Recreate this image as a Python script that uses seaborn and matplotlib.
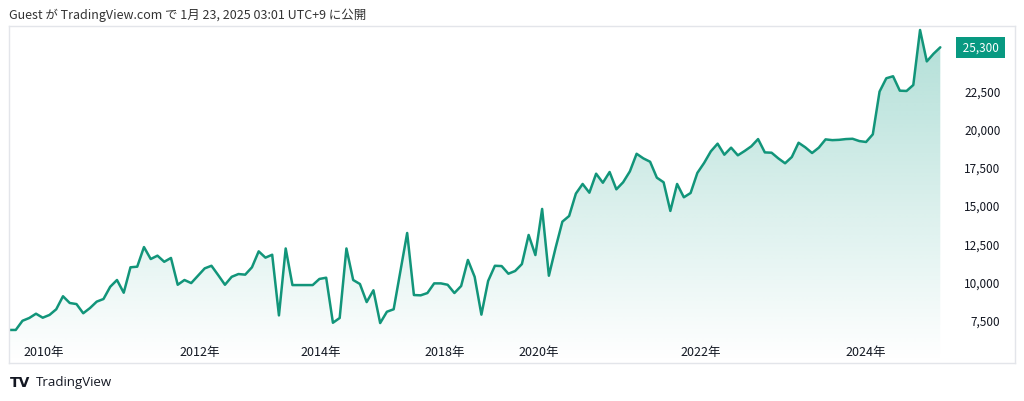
import numpy as np
import pandas as pd
import matplotlib
matplotlib.use("Agg")
import matplotlib.pyplot as plt
import matplotlib.transforms as mtransforms
import seaborn as sns

# monthly closes (TradingView compresses gaps, so x is bar index)
price = [6850, 6850, 7450, 7630, 7910, 7650, 7830, 8200, 9050, 8610,
         8540, 7940, 8280, 8700, 8870, 9670, 10110, 9280, 10940, 10980,
         12260, 11480, 11700, 11300, 11550, 9800, 10110, 9910, 10390, 10870,
         11040, 10430, 9800, 10320, 10500, 10460, 10940, 11980, 11570, 11760,
         7800, 12170, 9780, 9780, 9780, 9780, 10180, 10260, 7320, 7630,
         12170, 10110, 9850, 8670, 9440, 7300, 8040, 8200, 10680, 13180,
         9130, 9110, 9260, 9890, 9890, 9800, 9260, 9720, 11420, 10320,
         7850, 10050, 11040, 11020, 10520, 10700, 11150, 13050, 11740, 14750,
         10390, 12220, 13920, 14290, 15750, 16380, 15810, 17050, 16460, 17160,
         16030, 16490, 17200, 18350, 18050, 17830, 16790, 16490, 14620, 16380,
         15510, 15790, 17100, 17750, 18510, 19010, 18290, 18750, 18250, 18530,
         18840, 19310, 18440, 18420, 18050, 17730, 18140, 19070, 18770, 18400,
         18750, 19290, 19240, 19260, 19310, 19330, 19180, 19120, 19620, 22410,
         23280, 23410, 22470, 22450, 22840, 26430, 24380, 24880, 25300]

year_tick_pos = [5.2, 28.2, 46.2, 64.5, 78.5, 102.5, 127.0]
year_tick_labels = ["2010年", "2012年", "2014年", "2018年", "2020年", "2022年", "2024年"]
price_ticks = [7500, 10000, 12500, 15000, 17500, 20000, 22500]
last_label = "25,300"
title = "Guest が TradingView.com で 1月 23, 2025 03:01 UTC+9 に公開"

df = pd.DataFrame({"bar": np.arange(len(price)), "close": price})

sns.set_style("white")
plt.rcParams["font.family"] = ["Noto Sans CJK JP", "DejaVu Sans"]

green = "#12957a"
W, H = 1024, 402
fig = plt.figure(figsize=(W / 100, H / 100), dpi=100)
# frame box 9..1015 px horizontally, 27..364 px vertically
ax = fig.add_axes([9 / W, (H - 364) / H, (1015 - 9) / W, (364 - 27) / H])

sns.lineplot(data=df, x="bar", y="close", ax=ax, color=green, linewidth=1.8)

xlim = (0, 149.07)
ylim = (4693, 26691)
ax.set_xlim(*xlim)
ax.set_ylim(*ylim)

# gradient fill under the line
poly = ax.fill_between(df["bar"], df["close"], ylim[0], color="none", linewidth=0)
grad = np.zeros((256, 2, 4))
rgb = matplotlib.colors.to_rgb("#089981")
grad[:, :, 0], grad[:, :, 1], grad[:, :, 2] = rgb
grad[:, :, 3] = np.linspace(0.32, 0.0, 256)[:, None]
im = ax.imshow(grad, extent=[xlim[0], xlim[1], ylim[0], ylim[1]],
               aspect="auto", origin="upper", zorder=1, interpolation="bilinear")
path = poly.get_paths()[0]
im.set_clip_path(path, transform=ax.transData)

ax.set_xlabel("")
ax.set_ylabel("")

ax.set_xticks(year_tick_pos)
ax.set_xticklabels(year_tick_labels)
ax.tick_params(axis="x", length=0, pad=-13, labelsize=9, labelcolor="#131722")

ax.yaxis.tick_right()
ax.set_yticks(price_ticks)
ax.set_yticklabels([f"{v:,}" for v in price_ticks])
ax.tick_params(axis="y", length=0, pad=-10.5, labelsize=8.5, labelcolor="#131722")
for lab in ax.get_yticklabels():
    lab.set_horizontalalignment("right")

for s in ax.spines.values():
    s.set_color("#e3e5ea")
    s.set_linewidth(1.0)

# last price tag on the price scale
tr = mtransforms.blended_transform_factory(ax.transAxes, ax.transData)
ax.text(0.9865, price[-1], " " + last_label + " ", transform=tr, ha="right", va="center",
        fontsize=8.5, color="white", zorder=5,
        bbox=dict(boxstyle="square,pad=0.32", fc="#089981", ec="none"))

fig.text(9 / W, 1 - 15 / H, title, ha="left", va="center", fontsize=9, color="#333333")
fig.text(10 / W, 1 - 383 / H, "TV", ha="left", va="center", fontsize=10,
         fontweight="heavy", color="#131722", family=["DejaVu Sans"])
fig.text(36 / W, 1 - 383 / H, "TradingView", ha="left", va="center", fontsize=9.5,
         color="#131722", family=["Open Sans", "DejaVu Sans"])

fig.savefig("out.png", dpi=100, facecolor="white")
